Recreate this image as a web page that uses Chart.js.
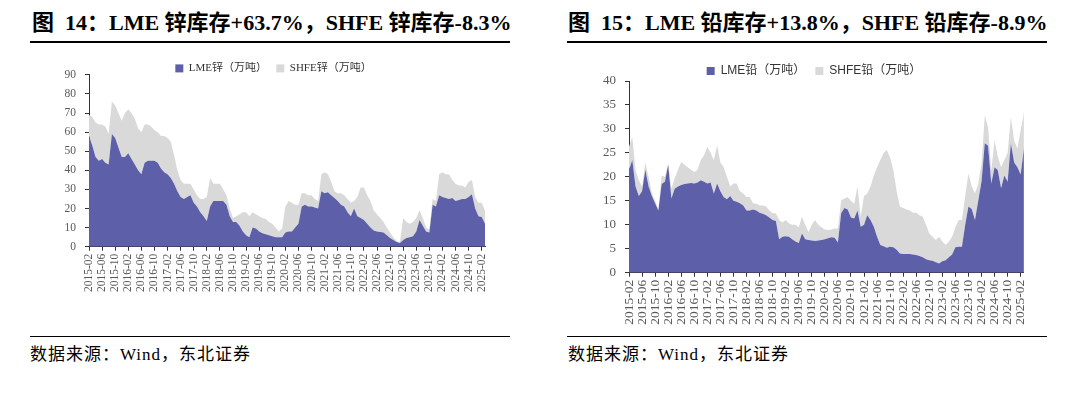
<!DOCTYPE html>
<html><head><meta charset="utf-8">
<script src="https://cdn.jsdelivr.net/npm/chart.js@4.4.0/dist/chart.umd.min.js"></script>
<style>
html,body{margin:0;padding:0;background:#fff;width:1080px;height:397px;overflow:hidden;}
.abs{position:absolute;}
.title{font-family:"Liberation Serif","Noto Sans CJK SC",serif;font-weight:bold;font-size:22px;line-height:28px;color:#000;white-space:nowrap;}
.rule{background:#000;}
.src{font-family:"Liberation Serif","Noto Sans CJK SC",serif;font-size:17px;line-height:20px;letter-spacing:1px;color:#000;white-space:nowrap;}
canvas{position:absolute;}
</style></head>
<body>
<div class="abs title" style="left:32px;top:9px;">图&nbsp;&nbsp;14：LME 锌库存+63.7%，SHFE 锌库存-8.3%</div>
<div class="abs rule" style="left:30px;top:41px;width:480px;height:2px;"></div>
<div class="abs title" style="left:568px;top:9px;">图&nbsp;&nbsp;15：LME 铅库存+13.8%，SHFE 铅库存-8.9%</div>
<div class="abs rule" style="left:567px;top:41px;width:480px;height:2px;"></div>
<canvas id="c1" width="500" height="246" style="left:0px;top:59px;"></canvas>
<canvas id="c2" width="500" height="274" style="left:540px;top:61px;"></canvas>
<div class="abs rule" style="left:30px;top:336px;width:480px;height:1px;"></div>
<div class="abs rule" style="left:567px;top:336px;width:480px;height:1px;"></div>
<div class="abs src" style="left:30px;top:345px;">数据来源：Wind，东北证券</div>
<div class="abs src" style="left:568px;top:345px;">数据来源：Wind，东北证券</div>
<script>
// months 2015-02 .. 2025-03
const months = [];
for (let y = 2015, m = 2; !(y === 2025 && m > 3); ) {
  months.push(y + '-' + String(m).padStart(2, '0'));
  m++; if (m > 12) { m = 1; y++; }
}
const zincSeriesNames = ['LME锌（万吨）', 'SHFE锌（万吨）'];
const leadSeriesNames = ['LME铅（万吨）', 'SHFE铅（万吨）'];

const lmeZinc = [58,53,47,45,46,44,43,59,57,52,47,47,49,46,43,40,38,44,45,45,
  45,44,41,39,38,36,33,29,26,25,26,27,23,21,18,16,13.5,21,24,24,
  24,24,22,16,13,13,11,8,6,5,10,9.5,8,7,6.5,6,5.5,5,5,5,
  7.5,8,8,10,12,21,22,21,21,20.5,20,29,28,28.5,27,25.5,24,22,21,18,
  16,20,16,15,14,12,10,8.5,8,7.7,7.5,6,4.5,3.5,2.5,2,3.5,4.5,5,5.5,
  8,14,11,8,7.5,22,21,27,26,25.5,25,25.5,24,24.5,25,25,26,27.5,20,16,
  15.5,12];
const shfeZinc = [11,15,18,19,18,19,16,17,17,18,19,23,23,24,24,22,22,20,19,18,
  16,16,17,19,19,19,15,11,9,8,7,6,7,6,7,9,12.5,15,9,9,
  9,6,5,4,2,3,6,10,12,11,8,7.5,8,8,8,7,6.5,5,3,4.5,
  13.5,16,15,12,10,7,6,6,6,4.5,4,9,11,9.5,7,3.5,4,6,6,7,
  7,4,10,16,17,15,14,10.5,9,7.3,5.5,4,3,1.5,0.5,0.5,11.5,8.5,7,7.5,
  7,5,4,2,1.5,3,3,11,13,12.5,13,9.5,9,7.5,7,6,8,7.5,6,7,
  7.5,7];
const lmeLead = [21.4,23.5,18,16,17,21.5,18,16,14.5,13,18.5,19,22.5,15.5,17.5,18,18.3,18.5,18.6,18.7,
  18.6,18.8,19.3,19,18.6,18.8,16.5,18.6,17,15.8,15.3,16,15,14.8,14.5,14,13,13,13.2,13,
  12.5,12.3,12,11.5,11,10.8,7,7.5,7.6,7.5,7,6.5,6.2,8.2,7,6.8,6.7,6.6,6.7,6.8,
  7,7.2,7.4,7.3,6.3,12.4,13.5,13.2,11.5,11.3,13,9.6,10,12,11,9.6,7.5,5.8,5.5,5.2,
  5.4,5.3,4.8,4,3.9,3.9,3.9,3.8,3.7,3.5,3.2,2.8,2.6,2.5,2.2,1.9,2.4,2.6,3.2,3.8,
  5.3,5.4,5.4,10,13.8,13.3,11,15,19,27,26.5,18.6,22,21.4,17.6,20.3,19,27,23,22,
  20.5,26];
const shfeLead = [4.9,4.8,3.4,3.3,1,1.5,2,0.5,0.5,0.2,1.8,1,0.3,2,2.2,3.5,4.8,4,3.4,2.8,
  2.4,2.7,4.2,5.5,7.7,6.2,7,8,6,6.2,4.7,2,3.6,3.8,2.5,2.5,2.8,2.8,1.3,1.4,
  1.5,1.7,1.8,1.5,1.4,1.6,4,3,3.4,2.8,3,3.5,3.3,3.5,3,1.7,3.3,4.4,3.3,2.7,
  2,1.7,1.6,1.9,2.9,2.7,2,2.6,3.5,3.1,5,2.1,6,4.5,7,10.7,14.5,17.7,19.5,20.4,
  18.6,16.1,12.2,9.8,9.6,9.3,9.1,8.7,8.8,8.5,8.5,7.2,5.6,5,4.6,5.6,4.1,3.2,3.3,3.7,
  4.2,5.6,5.6,6,6.9,4.7,5.5,3.5,3.8,5.8,3.9,2.8,5.6,2.8,4.4,3.2,6,5.5,4.6,3.9,
  9.2,7.5];
const zincTicks = {min: 0, max: 90, step: 10};
const leadTicks = {min: 0, max: 40, step: 5};

const BLUE = '#5D5FA8', GREY = '#D9D9D9', AXIS = '#333333', TICK = '#595959';

// trim part of the fixed 10px extra that Chart.js adds below a horizontal legend
const tightLegend = {
  id: 'tightLegend',
  afterInit(chart, args, opts) {
    const lg = chart.legend;
    if (!lg || lg._tight) return;
    const trim = (opts && opts.trim) || 0;
    const orig = lg.fit.bind(lg);
    lg.fit = function () { orig(); this.height = Math.max(0, this.height - trim); };
    lg._tight = true;
  }
};

function makeChart(id, names, lme, shfe, yt, o) {
  const ctx = document.getElementById(id);
  return new Chart(ctx, {
    type: 'line',
    plugins: [tightLegend],
    data: {
      labels: months,
      datasets: [
        {label: names[0], data: lme, backgroundColor: BLUE, borderColor: BLUE, borderWidth: 0, fill: 'origin', pointRadius: 0, tension: 0},
        {label: names[1], data: shfe, backgroundColor: GREY, borderColor: GREY, borderWidth: 0, fill: '-1', pointRadius: 0, tension: 0}
      ]
    },
    options: {
      responsive: false, animation: false, devicePixelRatio: 1,
      layout: {padding: {left: o.padL, right: o.padR, top: 0, bottom: 0}},
      plugins: {
        tooltip: {enabled: false},
        tightLegend: {trim: o.trim},
        legend: {
          position: 'top', align: 'center',
          labels: {
            boxWidth: 8, boxHeight: 8, padding: o.legPad, color: '#333',
            font: {family: o.legFont, size: o.legSize},
            generateLabels(chart) {
              const items = Chart.defaults.plugins.legend.labels.generateLabels(chart);
              items.forEach(it => { it.lineWidth = 0; it.strokeStyle = 'rgba(0,0,0,0)'; });
              items[0].text += o.gap;
              return items;
            }
          }
        }
      },
      scales: {
        x: {
          type: 'category', offset: false,
          grid: {display: true, drawOnChartArea: false, drawTicks: true, tickLength: 4, color: AXIS},
          border: {display: true, color: AXIS, width: 1},
          ticks: {autoSkip: false, maxRotation: 90, minRotation: 90, padding: 3, color: TICK,
            font: {family: 'Liberation Serif', size: o.xSize}},
          afterBuildTicks(scale) { scale.ticks = scale.ticks.filter(t => t.value % 4 === 0); },
          afterFit(scale) { scale.height = o.xH; }
        },
        y: {
          stacked: true, min: yt.min, max: yt.max,
          grid: {display: true, drawOnChartArea: false, drawTicks: true, tickLength: 4, color: AXIS},
          border: {display: true, color: AXIS, width: 1},
          ticks: {stepSize: yt.step, padding: 9, color: TICK, font: {family: 'Liberation Serif', size: o.ySize}},
          afterFit(scale) { scale.width = o.yW; }
        }
      }
    }
  });
}

makeChart('c1', zincSeriesNames, lmeZinc, shfeZinc, zincTicks,
  {padL: 62, padR: 15, yW: 27, xH: 58.3, legPad: 1, trim: 9, gap: '\u3000 ', legFont: '"Liberation Serif","Noto Sans CJK SC"', legSize: 11, xSize: 11.5, ySize: 11.5});
makeChart('c2', leadSeriesNames, lmeLead, shfeLead, leadTicks,
  {padL: 63, padR: 15, yW: 26, xH: 62.3, legPad: 4, trim: 6, gap: '\u3000', legFont: '"Liberation Sans","Noto Sans CJK SC"', legSize: 12, xSize: 13.5, ySize: 13});
</script>
</body></html>
